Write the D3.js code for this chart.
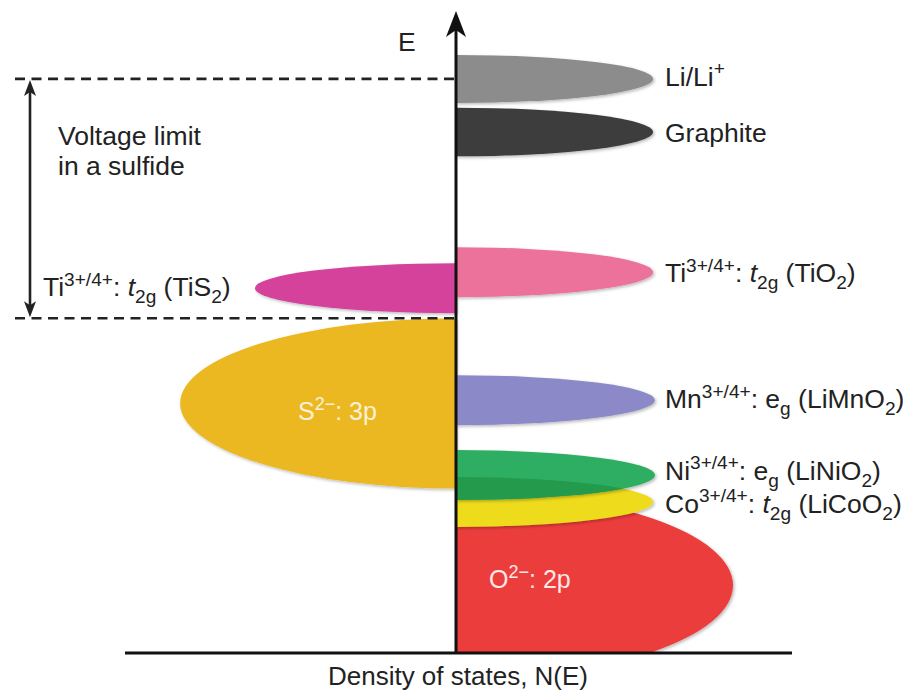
<!DOCTYPE html>
<html>
<head>
<meta charset="utf-8">
<script src="https://cdn.jsdelivr.net/npm/d3@7"></script>
<style>
  html, body { margin: 0; padding: 0; background: #fff; }
  svg { display: block; }
  text { font-family: "Liberation Sans", Arial, Helvetica, sans-serif; fill: #222; }
</style>
</head>
<body>
<svg id="chart" width="903" height="692"></svg>
<script>
// ---- data (energy in arbitrary units, DOS in arbitrary units; left side negative) ----
const bandIds      = ["S", "TiS2", "O", "Co", "Ni", "Mn", "TiO2", "Graphite", "Li"];
const bandEnergy   = [3.90, 5.70, 1.06, 2.36, 2.78, 3.95, 5.95, 8.14, 8.97];
const bandHalfWidth= [1.33, 0.39, 1.48, 0.39, 0.39, 0.39, 0.39, 0.38, 0.375];
const bandDOS      = [-2.76, -2.01, 2.77, 1.97, 1.99, 1.99, 1.97, 1.97, 1.97];
const bandColors   = ["#ebb821", "#d4429b", "#ec3d3d", "#eedc1c", "#2fae64", "#8b89c8", "#ec729c", "#3c3c3c", "#8c8c8c"];

const labelParts = {
  Li:       [["Li/Li"], ["+", "sup"]],
  Graphite: [["Graphite"]],
  TiO2:     [["Ti"], ["3+/4+", "sup"], [": "], ["t", "it"], ["2g", "sub"], [" (TiO"], ["2", "sub"], [")"]],
  Mn:       [["Mn"], ["3+/4+", "sup"], [": e"], ["g", "sub"], [" (LiMnO"], ["2", "sub"], [")"]],
  Ni:       [["Ni"], ["3+/4+", "sup"], [": e"], ["g", "sub"], [" (LiNiO"], ["2", "sub"], [")"]],
  Co:       [["Co"], ["3+/4+", "sup"], [": "], ["t", "it"], ["2g", "sub"], [" (LiCoO"], ["2", "sub"], [")"]],
  TiS2:     [["Ti"], ["3+/4+", "sup"], [": "], ["t", "it"], ["2g", "sub"], [" (TiS"], ["2", "sub"], [")"]],
  S:        [["S"], ["2\u2212", "sup"], [": 3p"]],
  O:        [["O"], ["2\u2212", "sup"], [": 2p"]]
};
const voltageLines = ["Voltage limit", "in a sulfide"];
const yAxisTitle = "E";
const xAxisTitle = "Density of states, N(E)";

// ---- scales ----
const svg = d3.select("#chart");
const y = d3.scaleLinear().domain([0, 10]).range([653, 13]);
const x = d3.scaleLinear().domain([-3.31, 3.36]).range([125, 792]);
const x0 = x(0);
const FS = 26.5;

const defs = svg.append("defs");
const f = defs.append("filter").attr("id", "soft").attr("x", "-10%").attr("y", "-30%").attr("width", "120%").attr("height", "160%");
f.append("feDropShadow").attr("dx", 1.5).attr("dy", 1.5).attr("stdDeviation", 1.6).attr("flood-color", "#000").attr("flood-opacity", 0.28);
defs.append("clipPath").attr("id", "above").append("rect")
  .attr("x", 0).attr("y", 0).attr("width", 903).attr("height", y(0));

const bands = bandIds.map((id, i) => ({
  id, e: bandEnergy[i], hw: bandHalfWidth[i], dos: bandDOS[i], color: bandColors[i]
}));

function halfEllipse(d) {
  const cy = y(d.e);
  const ry = y(d.e - d.hw) - cy;
  const rx = Math.abs(x(d.dos) - x0);
  const sweep = d.dos > 0 ? 1 : 0;
  return `M${x0},${cy - ry} A${rx},${ry} 0 0 ${sweep} ${x0},${cy + ry} Z`;
}

// clip for overlap Ni ∩ Co
const ni = bands.find(b => b.id === "Ni");
const co = bands.find(b => b.id === "Co");
defs.append("clipPath").attr("id", "niClip").append("path").attr("d", halfEllipse(ni));

const g = svg.append("g").attr("clip-path", "url(#above)");
g.selectAll("path.band").data(bands).join("path")
  .attr("class", "band")
  .attr("d", halfEllipse)
  .attr("fill", d => d.color)
  .attr("filter", "url(#soft)");
// overlap of Ni and Co bands (darker green)
g.append("path").attr("d", halfEllipse(co)).attr("clip-path", "url(#niClip)").attr("fill", "#239a4c");

// ---- dashed limit lines ----
const sBand = bands.find(b => b.id === "S");
const liBand = bands.find(b => b.id === "Li");
const limits = [liBand.e, sBand.e + sBand.hw];
svg.selectAll("line.limit").data(limits).join("line")
  .attr("x1", 15).attr("x2", x0)
  .attr("y1", d => y(d)).attr("y2", d => y(d))
  .attr("stroke", "#222").attr("stroke-width", 2.6).attr("stroke-dasharray", "10,6.5");

// double arrow
const ax = 30;
const yTop = y(limits[0]) + 1, yBot = y(limits[1]) - 1;
svg.append("line").attr("x1", ax).attr("x2", ax).attr("y1", yTop + 10).attr("y2", yBot - 10)
  .attr("stroke", "#222").attr("stroke-width", 2.6);
svg.append("path").attr("d", `M${ax},${yTop} L${ax - 6},${yTop + 16} L${ax},${yTop + 12} L${ax + 6},${yTop + 16} Z`).attr("fill", "#222");
svg.append("path").attr("d", `M${ax},${yBot} L${ax - 6},${yBot - 16} L${ax},${yBot - 12} L${ax + 6},${yBot - 16} Z`).attr("fill", "#222");

// ---- axes ----
svg.append("line").attr("x1", x.range()[0]).attr("x2", x.range()[1]).attr("y1", y(0)).attr("y2", y(0))
  .attr("stroke", "#111").attr("stroke-width", 3);
svg.append("line").attr("x1", x0).attr("x2", x0).attr("y1", y(0)).attr("y2", 26)
  .attr("stroke", "#111").attr("stroke-width", 3);
svg.append("path").attr("d", `M${x0},${11} L${x0 - 10},${37} L${x0},${30} L${x0 + 10},${37} Z`).attr("fill", "#111");

svg.append("text").attr("x", 398).attr("y", 51).attr("font-size", FS).text(yAxisTitle);
svg.append("text").attr("x", x0 + 2).attr("y", 685).attr("text-anchor", "middle").attr("font-size", 26).text(xAxisTitle);

svg.append("text").attr("font-size", FS)
  .selectAll("tspan").data(voltageLines).join("tspan")
  .attr("x", 58).attr("y", (d, i) => 145 + i * 30).text(d => d);

// ---- rich labels ----
function rich(sel, parts, size) {
  let off = 0;
  parts.forEach(p => {
    const kind = p[1];
    let target = 0, fs = size;
    if (kind === "sup") { target = -0.40 * size; fs = 0.72 * size; }
    if (kind === "sub") { target = 0.26 * size; fs = 0.72 * size; }
    const t = sel.append("tspan").text(p[0]).attr("font-size", fs).attr("dy", target - off);
    if (kind === "it") t.attr("font-style", "italic");
    off = target;
  });
}

const labelShift = { Li: 7, Graphite: 10, TiO2: 10, Mn: 8, Ni: 5, Co: 11, TiS2: 8 };
bands.filter(b => b.id !== "S" && b.id !== "O").forEach(b => {
  const left = b.dos < 0;
  const t = svg.append("text")
    .attr("x", left ? 43 : 665)
    .attr("y", y(b.e) + labelShift[b.id])
    .attr("font-size", FS);
  rich(t, labelParts[b.id], FS);
});

// labels inside the big bands
const tS = svg.append("text").attr("x", 298).attr("y", y(sBand.e) + 17).attr("font-size", 25).style("fill", "#fbf1d8");
rich(tS, labelParts.S, 25);
const oBand = bands.find(b => b.id === "O");
const tO = svg.append("text").attr("x", 489).attr("y", y(oBand.e) + 3).attr("font-size", 25).style("fill", "#fde8e8");
rich(tO, labelParts.O, 25);
</script>
</body>
</html>
